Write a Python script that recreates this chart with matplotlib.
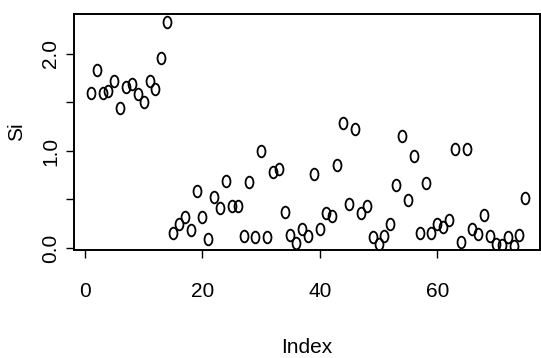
import numpy as np
import matplotlib
matplotlib.use('Agg')
from matplotlib import pyplot as plt
from matplotlib.path import Path
from matplotlib.transforms import Affine2D

# values (index 1..75)
si = [1.60, 1.83, 1.60, 1.62, 1.72, 1.44, 1.66, 1.69, 1.59, 1.50,
      1.72, 1.64, 1.96, 2.33, 0.16, 0.25, 0.32, 0.19, 0.59, 0.32,
      0.09, 0.53, 0.41, 0.69, 0.43, 0.43, 0.12, 0.68, 0.11, 1.00,
      0.11, 0.78, 0.81, 0.37, 0.13, 0.05, 0.20, 0.12, 0.76, 0.20,
      0.36, 0.33, 0.86, 1.29, 0.45, 1.23, 0.36, 0.43, 0.11, 0.04,
      0.12, 0.25, 0.65, 1.15, 0.49, 0.95, 0.16, 0.67, 0.16, 0.25,
      0.22, 0.29, 1.02, 0.06, 1.02, 0.20, 0.14, 0.34, 0.12, 0.04,
      0.03, 0.11, 0.02, 0.13, 0.52]
index = np.arange(1, len(si) + 1)

xticks = [0, 20, 40, 60]
yticks = [0.0, 0.5, 1.0, 1.5, 2.0]
ytick_labels = ['0.0', '', '1.0', '', '2.0']

plt.rcParams['font.family'] = ['Liberation Sans', 'DejaVu Sans']

# slightly tall open circle, like the scanned R plot
ring = Path.unit_circle().transformed(Affine2D().scale(0.68, 1.0))

fig = plt.figure(figsize=(5.41, 3.58), dpi=100)
ax = fig.add_axes([74/541, 1 - 250/358, (540 - 74)/541, (250 - 14)/358])

ax.plot(index, si, linestyle='none', marker=ring, markersize=8.4,
        markerfacecolor='none', markeredgecolor='black', markeredgewidth=1.3)

ax.set_xlim(-1.87, 77.5)
ax.set_ylim(-0.02, 2.41)
ax.set_xticks(xticks)
ax.set_yticks(yticks)
ax.set_yticklabels(ytick_labels, rotation=90, va='center')

ax.tick_params(direction='out', length=6, width=1, labelsize=15, colors='black')
ax.tick_params(axis='x', pad=17)
ax.tick_params(axis='y', pad=4)
for s in ax.spines.values():
    s.set_linewidth(1.4)

ax.set_xlabel('Index', fontsize=15, labelpad=27)
ax.set_ylabel('Si', fontsize=15, labelpad=11)

fig.savefig('out.png', dpi=100)
plt.close()
